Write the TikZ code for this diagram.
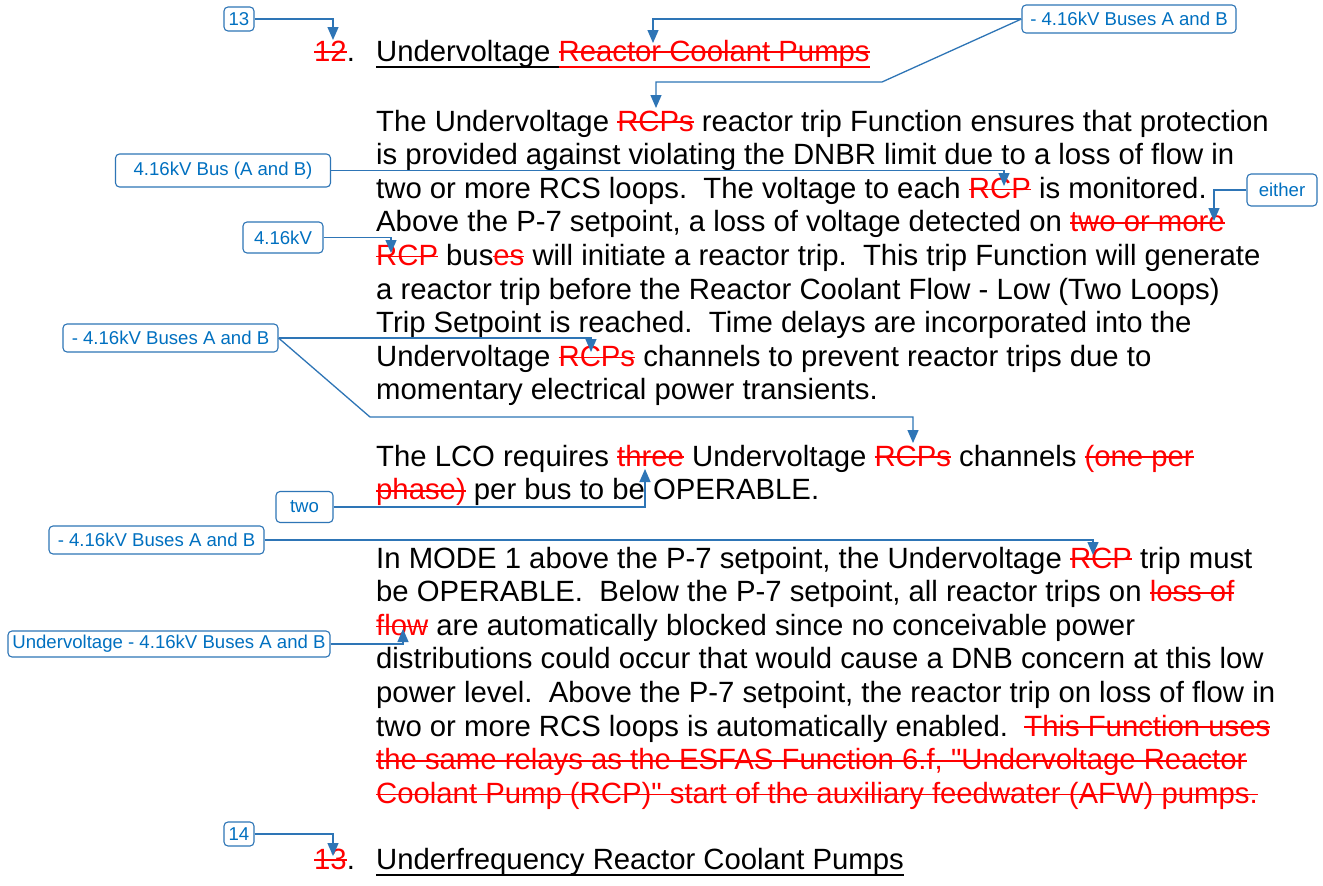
\documentclass[tikz,border=0pt]{standalone}
\usepackage{fontspec}
\setmainfont{Liberation Sans}[Ligatures=TeXOff]
\usetikzlibrary{arrows.meta}
\definecolor{delred}{RGB}{255,0,0}
\definecolor{cblue}{RGB}{0,112,192}
\definecolor{lblue}{RGB}{46,117,182}
\newcommand\del[1]{{\color{delred}\setbox0\hbox{#1}\rlap{\rule[0.27em]{\wd0}{1.6pt}}\box0}}
\newcommand\myul[1]{\setbox0\hbox{#1}\rlap{\rule[-7pt]{\wd0}{2.4pt}}\box0}
\frenchspacing
\begin{document}
\begin{tikzpicture}[x=1pt,y=-1pt,
  body/.style={anchor=base west, inner sep=0pt, font=\fontsize{29.3}{33.6}\selectfont},
  callout/.style={draw=lblue, rounded corners=4pt, text=cblue, font=\fontsize{18.6}{20}\selectfont, inner sep=0pt, line width=1.1pt},
  conn/.style={draw=lblue, line width=1.3pt, -{Triangle[width=11pt,length=13pt]}}]
\fill[white] (0,0) rectangle (1323,886);
\useasboundingbox (0,0) rectangle (1323,886);

% headings
\node[body] (h1n) at (314,61) {\del{12}.};
\node[body] (h1) at (376,61) {\myul{Undervoltage }{\color{delred}\myul{\del{Reactor Coolant Pumps}}}};
\node[body] (h2n) at (314,869) {\del{13}.};
\node[body] (h2) at (376,869) {\myul{Underfrequency Reactor Coolant Pumps}};

% paragraph 1
\node[body] (p1a) at (376,131) {The Undervoltage \del{RCPs} reactor trip Function ensures that protection};
\node[body] (p1b) at (376,164.6) {is provided against violating the DNBR limit due to a loss of flow in};
\node[body] (p1c) at (376,198.2) {two or more RCS loops.\ \ The voltage to each \del{RCP} is monitored.};
\node[body] (p1d) at (376,231.8) {Above the P-7 setpoint, a loss of voltage detected on \del{two or more}};
\node[body] (p1e) at (376,265.4) {\del{RCP} bus\del{es} will initiate a reactor trip.\ \ This trip Function will generate};
\node[body] (p1f) at (376,299) {a reactor trip before the Reactor Coolant Flow - Low (Two Loops)};
\node[body] (p1g) at (376,332.6) {Trip Setpoint is reached.\ \ Time delays are incorporated into the};
\node[body] (p1h) at (376,366.2) {Undervoltage \del{RCPs} channels to prevent reactor trips due to};
\node[body] (p1i) at (376,399.8) {momentary electrical power transients.};

% paragraph 2
\node[body] (p2a) at (376,466) {The LCO requires \del{three} Undervoltage \del{RCPs} channels \del{(one per}};
\node[body] (p2b) at (376,499.6) {\del{phase)} per bus to be OPERABLE.};

% paragraph 3
\node[body] (p3a) at (376,568) {In MODE 1 above the P-7 setpoint, the Undervoltage \del{RCP} trip must};
\node[body] (p3b) at (376,601.6) {be OPERABLE.\ \ Below the P-7 setpoint, all reactor trips on \del{loss of}};
\node[body] (p3c) at (376,635.2) {\del{flow} are automatically blocked since no conceivable power};
\node[body] (p3d) at (376,668.8) {distributions could occur that would cause a DNB concern at this low};
\node[body] (p3e) at (376,702.4) {power level.\ \ Above the P-7 setpoint, the reactor trip on loss of flow in};
\node[body] (p3f) at (376,736) {two or more RCS loops is automatically enabled.\ \ \del{This Function uses}};
\node[body] (p3g) at (376,769.6) {\del{the same relays as the ESFAS Function 6.f, "Undervoltage Reactor}};
\node[body] (p3h) at (376,803.2) {\del{Coolant Pump (RCP)" start of the auxiliary feedwater (AFW) pumps.}};

% callouts
\node[callout, minimum width=30pt, minimum height=24pt] (b13) at (239,19) {13};
\node[callout, minimum width=214pt, minimum height=28pt] (btop) at (1129,19) {- 4.16kV Buses A and B};
\node[callout, minimum width=215pt, minimum height=33pt] (bbus) at (223,170.5) {4.16kV Bus (A and B)};
\node[callout, minimum width=80pt, minimum height=31pt] (b416) at (283,237.5) {4.16kV};
\node[callout, minimum width=70pt, minimum height=32pt] (beither) at (1282,190) {either};
\node[callout, minimum width=215pt, minimum height=28pt] (bleft1) at (170.5,338) {- 4.16kV Buses A and B};
\node[callout, minimum width=57pt, minimum height=31pt] (btwo) at (304.5,507) {two};
\node[callout, minimum width=215pt, minimum height=28pt] (bleft2) at (156.5,540) {- 4.16kV Buses A and B};
\node[callout, minimum width=322pt, minimum height=26pt] (buv) at (169,644) {Undervoltage - 4.16kV Buses A and B};
\node[callout, minimum width=30pt, minimum height=24pt] (b14) at (239,834) {14};

% connector end points
\coordinate (t13) at (333,40);
\coordinate (tR) at (653,43);
\coordinate (k1) at (882,82);
\coordinate (tRCPs) at (656,108);
\coordinate (tRCP3) at (1004,186);
\coordinate (t416) at (391,253);
\coordinate (teither) at (1214,221);
\coordinate (tRCPs8) at (591,352);
\coordinate (k2) at (370,417);
\coordinate (tRCPs2) at (913,443);
\coordinate (tthree) at (645,469);
\coordinate (tRCP9) at (1093,555);
\coordinate (tflow) at (403,629);
\coordinate (t14) at (333,856);

% connectors
\draw[conn] (b13.east) -| (t13);
\draw[conn] (btop.west) -| (tR);
\draw[conn] (btop.west) -- (k1) -| (tRCPs);
\draw[conn] (bbus.east) -| (tRCP3);
\draw[conn] (b416.east) -| (t416);
\draw[conn] (beither.west) -| (teither);
\draw[conn] (bleft1.east) -| (tRCPs8);
\draw[conn] (bleft1.east) -- (k2) -| (tRCPs2);
\draw[conn] (btwo.east) -| (tthree);
\draw[conn] (bleft2.east) -| (tRCP9);
\draw[conn] (buv.east) -| (tflow);
\draw[conn] (b14.east) -| (t14);
\end{tikzpicture}
\end{document}
